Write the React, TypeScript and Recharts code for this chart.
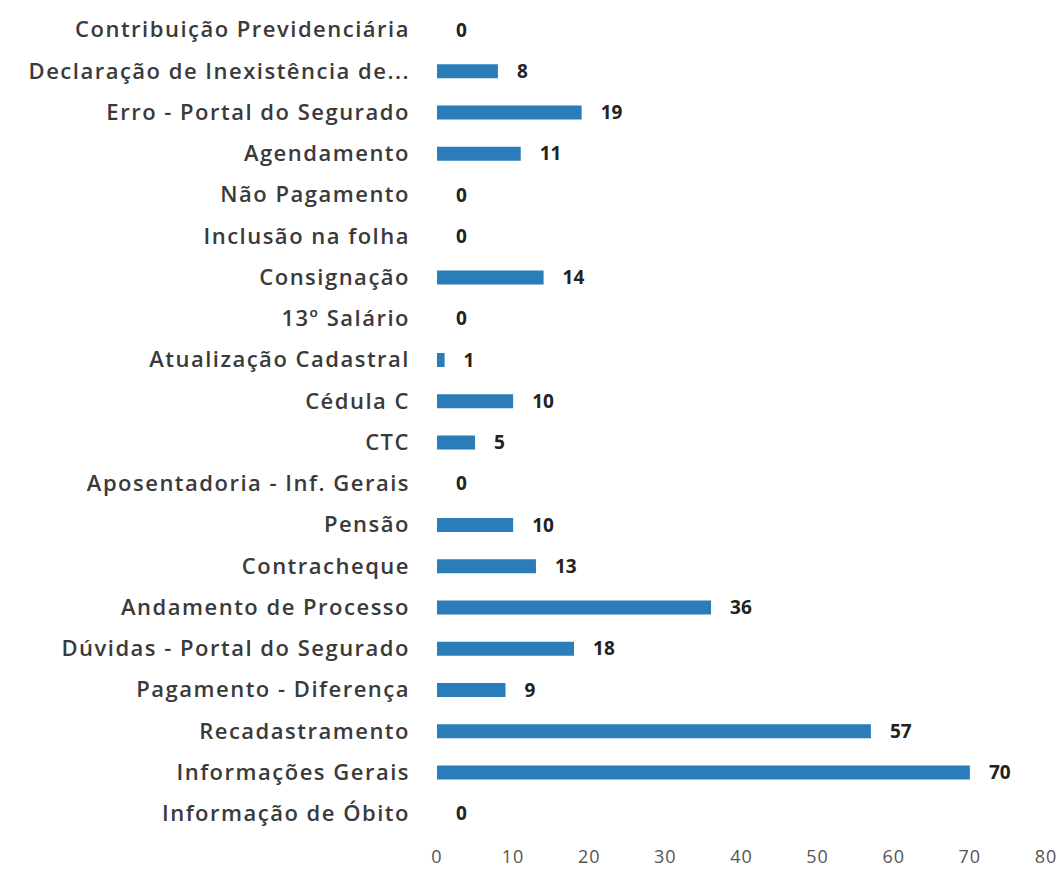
import { BarChart, Bar, XAxis, YAxis, LabelList } from 'recharts';

const categories = [
  'Contribuição Previdenciária',
  'Declaração de Inexistência de...',
  'Erro - Portal do Segurado',
  'Agendamento',
  'Não Pagamento',
  'Inclusão na folha',
  'Consignação',
  '13º Salário',
  'Atualização Cadastral',
  'Cédula C',
  'CTC',
  'Aposentadoria - Inf. Gerais',
  'Pensão',
  'Contracheque',
  'Andamento de Processo',
  'Dúvidas - Portal do Segurado',
  'Pagamento - Diferença',
  'Recadastramento',
  'Informações Gerais',
  'Informação de Óbito',
];

const values = [0, 8, 19, 11, 0, 0, 14, 0, 1, 10, 5, 0, 10, 13, 36, 18, 9, 57, 70, 0];

const xTicks = [0, 10, 20, 30, 40, 50, 60, 70, 80];

const data = categories.map((name, i) => ({ name, value: values[i] }));

const font = '"Open Sans", Lato, sans-serif';

const App = () => {
  return (
    <div style={{ position: 'absolute', left: 0, top: 0, width: 1062, height: 886, background: '#fff' }}>
      <BarChart
        width={1062}
        height={886}
        data={data}
        layout="vertical"
        margin={{ top: 9, right: 16, left: 0, bottom: 0 }}
        barCategoryGap={0}
      >
        <XAxis
          type="number"
          domain={[0, 80]}
          ticks={xTicks}
          axisLine={false}
          tickLine={false}
          height={52}
          tickMargin={10}
          tick={{ fontSize: 18, fill: '#555', fontFamily: font, letterSpacing: 1 }}
        />
        <YAxis
          type="category"
          dataKey="name"
          width={437}
          axisLine={false}
          tickLine={false}
          tickMargin={21}
          interval={0}
          tick={{ fontSize: 22, fill: '#3a3a3a', fontFamily: font, fontWeight: 600, letterSpacing: 1.5 }}
        />
        <Bar dataKey="value" fill="#2a7db8" barSize={14} minPointSize={0.01} isAnimationActive={false}>
          <LabelList
            dataKey="value"
            position="right"
            offset={19}
            style={{ fontSize: 19, fill: '#222', fontFamily: font, fontWeight: 700 }}
          />
        </Bar>
      </BarChart>
    </div>
  );
};

export default App;
